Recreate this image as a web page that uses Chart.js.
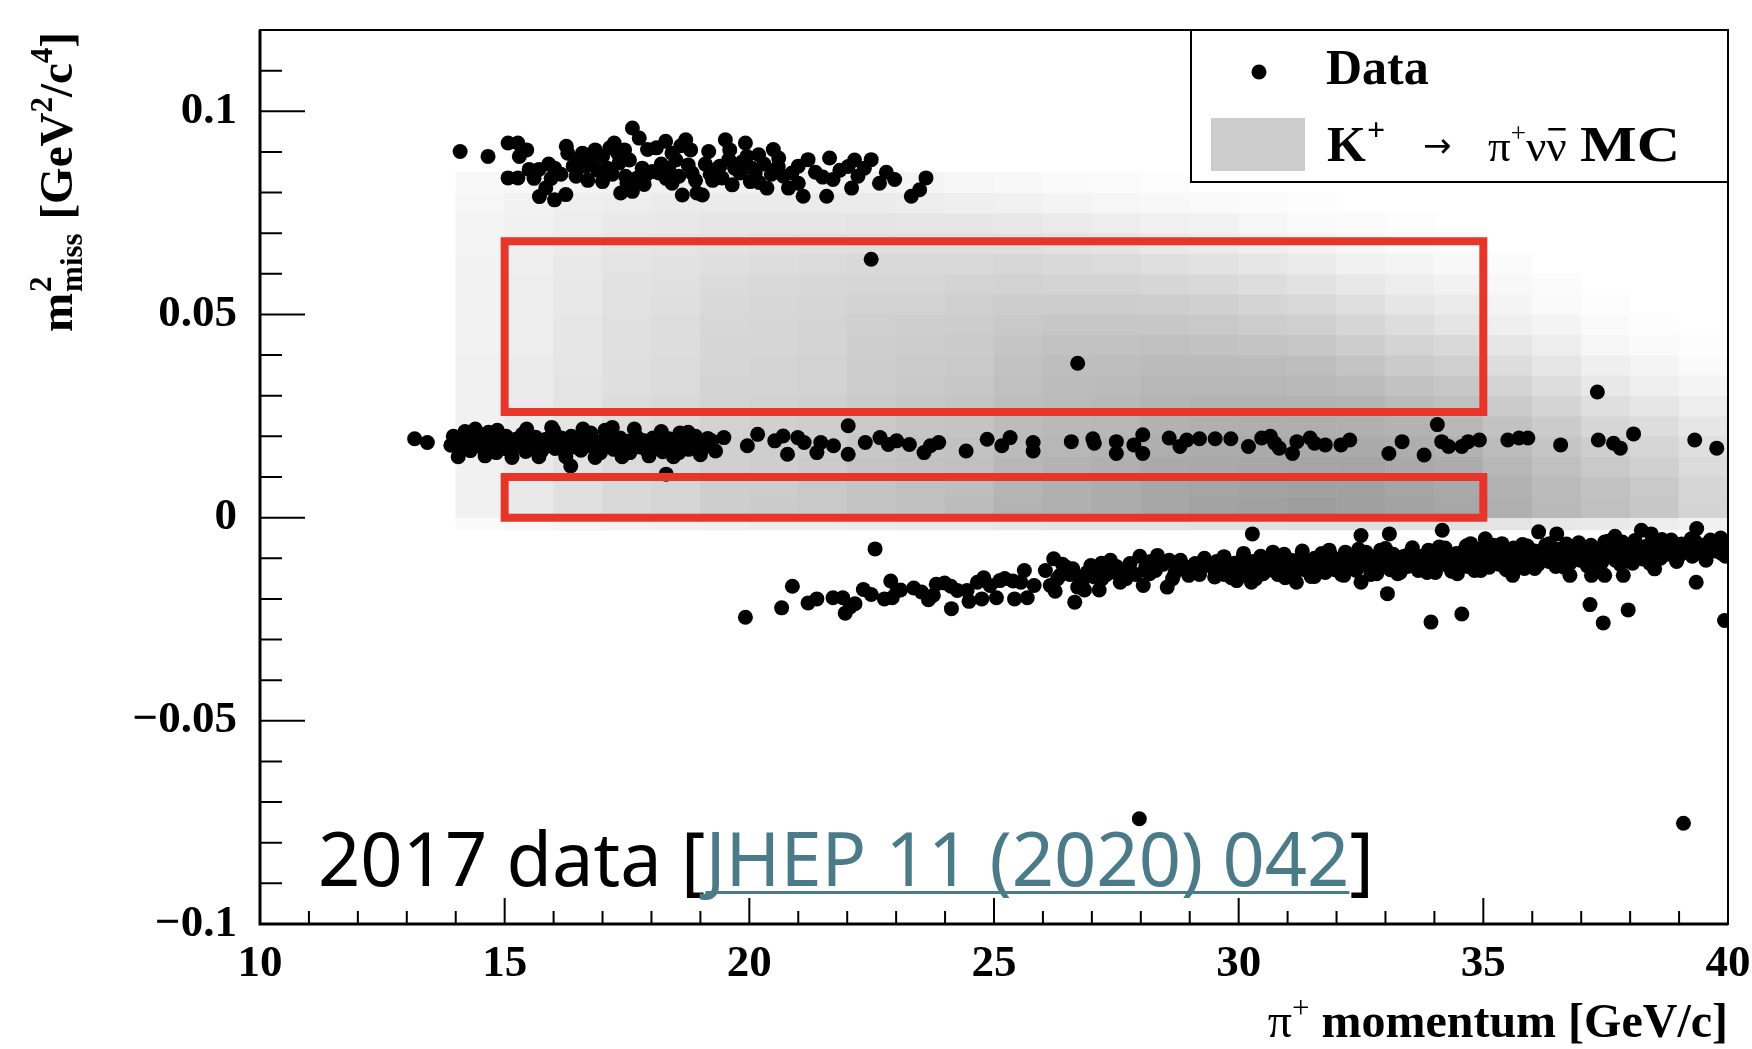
<!DOCTYPE html>
<html lang="en">
<head>
<meta charset="UTF-8">
<title>m2 miss vs pi+ momentum</title>
<style>
  html, body { margin: 0; padding: 0; background: #fff; }
  #wrap { width: 1752px; height: 1049px; }
</style>
<script src="https://cdn.jsdelivr.net/npm/chart.js@4.4.1/dist/chart.umd.min.js"></script>
</head>
<body>
<div id="wrap"><canvas id="chart" width="1752" height="1049"></canvas></div>
<script>
// axis ticks
const xTicks = [10, 15, 20, 25, 30, 35, 40];
const xTickLabels = ['10', '15', '20', '25', '30', '35', '40'];
const yTicks = [-0.1, -0.05, 0, 0.05, 0.1];
const yTickLabels = ['\u22120.1', '\u22120.05', '0', '0.05', '0.1'];

// signal regions (red boxes)
const signalP = [15, 35];
const region1 = [0, 0.01];
const region2 = [0.026, 0.068];

// K+ -> pi+ nu nubar MC, grey 2D histogram (darkness per cell)
const mcColumns = [14, 15, 16, 17, 18, 19, 20, 21, 22, 23, 24, 25, 26, 27, 28, 29, 30, 31, 32, 33, 34, 35, 36, 37, 38, 39, 40];
const mcRows = [-0.003, 0, 0.005, 0.01, 0.015, 0.02, 0.025, 0.03, 0.035, 0.04, 0.045, 0.05, 0.055, 0.06, 0.065, 0.07, 0.075, 0.08, 0.085];
const mcDensity = [
  [3, 4, 6, 7, 8, 9, 10, 10, 11, 12, 12, 14, 15, 15, 16, 17, 17, 18, 18, 17, 16, 15, 13, 12, 10, 8],
  [8, 12, 17, 21, 23, 27, 29, 30, 33, 35, 37, 42, 44, 46, 49, 51, 52, 54, 53, 51, 49, 44, 39, 35, 31, 24],
  [8, 12, 17, 21, 23, 27, 28, 30, 33, 35, 36, 41, 44, 46, 49, 50, 51, 52, 52, 50, 48, 43, 38, 34, 30, 23],
  [8, 12, 16, 20, 22, 26, 27, 29, 32, 34, 35, 40, 42, 44, 47, 48, 49, 50, 50, 48, 46, 40, 35, 30, 26, 20],
  [8, 11, 16, 20, 22, 26, 27, 28, 31, 33, 34, 38, 40, 42, 45, 46, 47, 47, 47, 45, 43, 37, 32, 27, 23, 18],
  [8, 11, 15, 19, 21, 25, 26, 27, 30, 32, 33, 37, 39, 40, 43, 44, 45, 45, 44, 42, 40, 34, 29, 23, 19, 14],
  [8, 11, 15, 19, 21, 24, 25, 26, 29, 31, 32, 36, 38, 39, 41, 42, 42, 42, 41, 38, 35, 29, 24, 18, 14, 10],
  [8, 11, 15, 18, 20, 24, 24, 25, 28, 30, 31, 35, 37, 38, 40, 40, 40, 39, 37, 34, 31, 24, 19, 13, 9, 6],
  [8, 11, 14, 18, 20, 23, 24, 25, 28, 29, 30, 34, 36, 36, 38, 38, 37, 36, 33, 29, 26, 19, 14, 9, 6, 3],
  [7, 10, 14, 17, 19, 23, 23, 24, 27, 28, 29, 32, 34, 34, 35, 34, 33, 31, 28, 24, 21, 14, 10, 5, 3, 1],
  [7, 10, 14, 17, 19, 22, 23, 24, 26, 27, 28, 30, 31, 31, 31, 30, 28, 26, 23, 19, 15, 9, 6, 3, 1, 0],
  [7, 10, 13, 16, 18, 21, 22, 23, 25, 25, 26, 28, 28, 28, 27, 26, 24, 21, 18, 14, 11, 6, 3, 1, 0, 0],
  [7, 10, 13, 16, 17, 20, 21, 22, 23, 23, 24, 25, 24, 24, 23, 21, 19, 16, 13, 10, 7, 4, 2, 0, 0, 0],
  [7, 9, 12, 15, 16, 18, 19, 20, 21, 21, 21, 22, 21, 20, 18, 16, 14, 11, 8, 6, 4, 2, 0, 0, 0, 0],
  [6, 9, 11, 14, 15, 16, 17, 17, 18, 18, 18, 18, 16, 15, 13, 11, 9, 7, 5, 3, 2, 0, 0, 0, 0, 0],
  [6, 8, 10, 12, 13, 14, 14, 14, 15, 14, 14, 13, 11, 10, 8, 7, 5, 3, 2, 1, 0, 0, 0, 0, 0, 0],
  [5, 7, 9, 10, 11, 11, 11, 11, 11, 10, 9, 8, 6, 5, 4, 3, 2, 1, 0, 0, 0, 0, 0, 0, 0, 0],
  [4, 5, 6, 7, 8, 8, 8, 7, 7, 6, 5, 4, 3, 2, 1, 0, 0, 0, 0, 0, 0, 0, 0, 0, 0, 0]
];

// data events [momentum GeV/c, m2miss GeV2/c4]
const upperBand = [
  [14.09,0.0901],[14.66,0.0889],[15.07,0.0922],[15.27,0.0922],[15.30,0.0889],[15.07,0.0836],[15.27,0.0836],[15.50,0.0857],[15.70,0.0857],[15.71,0.0790],[16.02,0.0782],[16.25,0.0795],[15.84,0.0811],
  [16.02,0.0860],[16.26,0.0914],[16.29,0.0897],[16.46,0.0840],[16.59,0.0897],[16.66,0.0864],[16.80,0.0885],[17.00,0.0889],[17.00,0.0827],[17.24,0.0922],[17.31,0.0897],[17.34,0.0873],[17.37,0.0799],[17.47,0.0840],[17.61,0.0959],[17.61,0.0803],[17.75,0.0934],[17.81,0.0860],[17.92,0.0906],[18.02,0.0852],[18.15,0.0848],[18.29,0.0926],[18.42,0.0897],[18.42,0.0823],[18.56,0.0840],[18.63,0.0794],[18.70,0.0930],[18.83,0.0848],[18.93,0.0799],[19.04,0.0794],[19.17,0.0901],[19.31,0.0856],[19.44,0.0836],[19.51,0.0930],[19.58,0.0881],[19.65,0.0819],[19.81,0.0848],[19.92,0.0922],[19.95,0.0889],[20.02,0.0827],[20.12,0.0848],[20.19,0.0893],[20.36,0.0811],[20.49,0.0906],[20.59,0.0864],[20.80,0.0811],[20.87,0.0848],[21.00,0.0823],[21.10,0.0791],[21.20,0.0881],[21.64,0.0885],[21.58,0.0791],[21.71,0.0832],[22.02,0.0864],[22.09,0.0811],[22.22,0.0840],[22.49,0.0881],[22.66,0.0823],[22.97,0.0832],[23.31,0.0791],[23.48,0.0807],[23.61,0.0836],
  [17.10,0.0860],[17.20,0.0845],[17.45,0.0905],[17.55,0.0880],[17.70,0.0835],[17.85,0.0820],[18.10,0.0910],[18.20,0.0870],[18.35,0.0860],[18.50,0.0880],[18.60,0.0915],[18.75,0.0868],[18.90,0.0830],[19.10,0.0870],[19.25,0.0830],[19.40,0.0865],[19.70,0.0860],[19.85,0.0875],[20.05,0.0860],[20.30,0.0870],[20.45,0.0845],[20.70,0.0840],[16.40,0.0865],[16.70,0.0830],[16.90,0.0855],[15.95,0.0835],[16.15,0.0845],[15.60,0.0835],[21.35,0.0850],[21.85,0.0855],[22.35,0.0860],
  [16.50,0.0880],[16.85,0.0905],[17.15,0.0910],[17.50,0.0822],[17.90,0.0845],[18.30,0.0835],[18.80,0.0905],[19.20,0.0845],[19.60,0.0905],[20.20,0.0825],[20.60,0.0885],[21.00,0.0865],[21.50,0.0838],[22.15,0.0880],[22.80,0.0850],[15.45,0.0905],[15.90,0.0870]
];

const middleBand = [
  [13.16,0.0194],[13.42,0.0185],
  [13.90,0.0178],[14.00,0.0190],[14.08,0.0170],[14.15,0.0198],[14.22,0.0182],[14.30,0.0165],[14.36,0.0192],[14.43,0.0176],[14.50,0.0204],[14.56,0.0186],[14.63,0.0168],[14.70,0.0195],[14.76,0.0180],[14.83,0.0160],[14.90,0.0190],[14.96,0.0175],
  [15.03,0.0200],[15.10,0.0183],[15.16,0.0168],[15.23,0.0193],[15.30,0.0178],[15.36,0.0205],[15.43,0.0163],[15.50,0.0188],[15.56,0.0172],[15.63,0.0198],[15.70,0.0182],[15.76,0.0165],[15.83,0.0192],[15.90,0.0178],[15.96,0.0202],
  [16.03,0.0170],[16.10,0.0186],[16.16,0.0196],[16.23,0.0162],[16.30,0.0180],[16.36,0.0200],[16.43,0.0174],[16.50,0.0188],[16.56,0.0166],[16.63,0.0194],[16.70,0.0178],[16.76,0.0208],[16.83,0.0170],[16.90,0.0186],[16.96,0.0160],
  [17.03,0.0192],[17.10,0.0176],[17.16,0.0200],[17.23,0.0168],[17.30,0.0184],[17.36,0.0196],[17.43,0.0172],[17.50,0.0188],[17.56,0.0160],[17.63,0.0180],[17.70,0.0198],[17.76,0.0174],[17.83,0.0190],[17.90,0.0166],[17.96,0.0184],
  [18.03,0.0196],[18.10,0.0172],[18.16,0.0186],[18.23,0.0162],[18.30,0.0180],[18.36,0.0194],[18.43,0.0170],[18.50,0.0185],[18.56,0.0160],[18.63,0.0178],[18.70,0.0192],[18.76,0.0168],[18.83,0.0182],[18.90,0.0200],[18.96,0.0172],[19.03,0.0186],[19.10,0.0176],
  [14.19,0.0212],[14.67,0.0210],[15.96,0.0222],[17.20,0.0222],[18.58,0.0208],
  [14.05,0.0150],[14.40,0.0218],[14.60,0.0152],[14.85,0.0215],[15.15,0.0148],[15.45,0.0218],[15.70,0.0150],[16.00,0.0215],[16.25,0.0150],[16.60,0.0218],[16.85,0.0148],[17.05,0.0215],[17.40,0.0150],[17.65,0.0218],[17.95,0.0152],[18.20,0.0212],[18.45,0.0150],[18.75,0.0210],[19.00,0.0155],[19.15,0.0195],[13.95,0.0200],[14.25,0.0175],[15.00,0.0170],[15.80,0.0185],[16.45,0.0190],[17.25,0.0182],[18.00,0.0178],[18.85,0.0188],
  [16.35,0.0127],[18.30,0.0107],
  [19.23,0.0189],[19.48,0.0197],[19.31,0.0164],[19.96,0.0177],[20.17,0.0205],[20.52,0.0189],[20.69,0.0201],[20.78,0.0156],[20.99,0.0197],[21.12,0.0185],[21.38,0.0160],[21.46,0.0185],[21.72,0.0177],[22.02,0.0226],[22.02,0.0156],[22.37,0.0185],[22.67,0.0197],[22.84,0.0180],[23.01,0.0189],[23.27,0.0180],[23.57,0.0160],[23.70,0.0177],[23.87,0.0185],[24.43,0.0164],[24.86,0.0193],[25.16,0.0177],[25.33,0.0197],[25.80,0.0185],[25.80,0.0164],
  [26.58,0.0187],[27.02,0.0194],[27.05,0.0183],[27.50,0.0187],[27.50,0.0158],[27.86,0.0179],[28.04,0.0204],[28.04,0.0158],[28.58,0.0196],[28.80,0.0175],[28.94,0.0191],[29.20,0.0194],[29.52,0.0194],[29.84,0.0194],[30.20,0.0175],[30.47,0.0196],[30.65,0.0200],[30.74,0.0183],[30.83,0.0171],[31.10,0.0158],[31.19,0.0187],[31.46,0.0196],[31.55,0.0183],[31.77,0.0179],[32.09,0.0179],[32.27,0.0191],[33.07,0.0158],[33.34,0.0187],[33.79,0.0154],[34.06,0.0229],[34.15,0.0187],[34.29,0.0175],[34.56,0.0175],[34.69,0.0187],[34.92,0.0191],[35.50,0.0191],[35.73,0.0196],[35.91,0.0196],[36.58,0.0179],[37.35,0.0191],[37.66,0.0183],[37.80,0.0171],[38.07,0.0206],[39.32,0.0191],[39.77,0.0171]
];

const lowerBand = [
  [19.92,-0.0245],[20.66,-0.0222],[20.88,-0.0169],[21.20,-0.0210],[21.38,-0.0200],[21.71,-0.0197],[21.91,-0.0197],[21.96,-0.0235],[22.06,-0.0220],[22.16,-0.0212],[22.33,-0.0177],[22.49,-0.0189],[22.57,-0.0077],
  [22.76,-0.0200],[22.89,-0.0156],[22.92,-0.0197],[23.02,-0.0179],[23.09,-0.0178],[23.36,-0.0173],[23.52,-0.0183],[23.66,-0.0202],[23.76,-0.0191],[23.82,-0.0164],[23.99,-0.0161],[24.12,-0.0169],[24.13,-0.0224],[24.25,-0.0179],[24.45,-0.0179],[24.49,-0.0206],
  [24.66,-0.0159],[24.75,-0.0200],[24.79,-0.0148],[24.92,-0.0167],[25.05,-0.0197],[25.12,-0.0155],[25.22,-0.0150],[25.39,-0.0156],[25.42,-0.0200],[25.55,-0.0159],[25.62,-0.0130],[25.68,-0.0197],[25.82,-0.0167],
  [26.05,-0.0130],[26.15,-0.0167],[26.22,-0.0101],[26.25,-0.0181],[26.35,-0.0142],[26.48,-0.0122],[26.61,-0.0126],[26.65,-0.0208],[26.71,-0.0171],[26.85,-0.0178],[26.98,-0.0118],[27.05,-0.0146],[27.15,-0.0178],[27.21,-0.0150],[27.38,-0.0105],[27.45,-0.0134],[27.58,-0.0159],
  [27.78,-0.0113],[27.98,-0.0095],[28.05,-0.0167],[28.18,-0.0138],[28.34,-0.0093],[28.54,-0.0171],[28.58,-0.0105],[28.81,-0.0105],[28.98,-0.0142],[29.11,-0.0113],[29.31,-0.0118],[29.51,-0.0130],[29.51,-0.0146],
  [26.30,-0.0150],[26.55,-0.0140],[26.90,-0.0135],[27.10,-0.0125],[27.30,-0.0140],[27.65,-0.0128],[27.90,-0.0140],[28.10,-0.0120],[28.30,-0.0130],[28.45,-0.0115],[28.70,-0.0135],[28.90,-0.0120],[29.05,-0.0130],[29.20,-0.0140],[29.40,-0.0115],[27.50,-0.0120],[26.75,-0.0150],[28.65,-0.0150],
  [26.40,-0.0115],[26.80,-0.0160],[27.20,-0.0112],[27.70,-0.0150],[28.20,-0.0108],[28.75,-0.0112],[29.30,-0.0100],[29.70,-0.0140],
  [29.55,-0.0108],[29.62,-0.0135],[29.70,-0.0096],[29.78,-0.0122],[29.85,-0.0148],[29.92,-0.0112],[30.00,-0.0130],[30.08,-0.0100],[30.15,-0.0118],[30.22,-0.0142],[30.30,-0.0108],[30.38,-0.0125],[30.45,-0.0095],[30.50,-0.0138],
  [30.58,-0.0112],[30.65,-0.0128],[30.72,-0.0098],[30.80,-0.0140],[30.86,-0.0118],[30.93,-0.0090],[31.00,-0.0125],[31.07,-0.0105],[31.14,-0.0135],[31.20,-0.0112],[31.28,-0.0095],[31.35,-0.0128],[31.42,-0.0108],[31.48,-0.0145],
  [31.55,-0.0100],[31.62,-0.0122],[31.70,-0.0088],[31.77,-0.0135],[31.84,-0.0110],[31.90,-0.0095],[31.97,-0.0128],[32.04,-0.0105],[32.10,-0.0140],[32.18,-0.0085],[32.25,-0.0118],[32.32,-0.0100],[32.40,-0.0130],[32.47,-0.0092],
  [32.55,-0.0112],[32.60,-0.0085],[32.68,-0.0125],[32.75,-0.0098],[32.82,-0.0138],[32.90,-0.0080],[32.96,-0.0115],[33.02,-0.0100],[33.10,-0.0128],[33.16,-0.0090],[33.24,-0.0110],[33.30,-0.0135],[33.38,-0.0095],[33.45,-0.0120],
  [33.52,-0.0085],[33.60,-0.0112],[33.67,-0.0130],[33.74,-0.0095],[33.80,-0.0120],[33.88,-0.0080],[33.95,-0.0105],[34.02,-0.0135],[34.08,-0.0092],[34.15,-0.0115],[34.22,-0.0075],[34.30,-0.0102],[34.38,-0.0125],[34.45,-0.0088],
  [34.52,-0.0110],[34.60,-0.0082],[34.68,-0.0120],[34.75,-0.0095],[34.82,-0.0130],[34.90,-0.0078],[34.97,-0.0105],[35.04,-0.0090],[35.12,-0.0122],[35.18,-0.0072],[35.26,-0.0100],[35.33,-0.0115],[35.40,-0.0085],[35.47,-0.0128],
  [35.55,-0.0092],[35.62,-0.0075],[35.70,-0.0110],[35.76,-0.0088],[35.84,-0.0125],[35.90,-0.0070],[35.98,-0.0100],[36.05,-0.0082],[36.12,-0.0115],[36.20,-0.0095],[36.27,-0.0068],[36.34,-0.0108],[36.42,-0.0085],[36.48,-0.0120],
  [36.55,-0.0078],[36.62,-0.0100],[36.70,-0.0065],[36.77,-0.0112],[36.84,-0.0088],[36.90,-0.0072],[36.98,-0.0105],[37.05,-0.0082],[37.12,-0.0118],[37.20,-0.0068],[37.27,-0.0095],[37.34,-0.0078],[37.42,-0.0110],[37.48,-0.0060],
  [37.55,-0.0090],[37.62,-0.0070],[37.70,-0.0105],[37.76,-0.0082],[37.84,-0.0060],[37.90,-0.0098],[37.98,-0.0075],[38.05,-0.0112],[38.12,-0.0065],[38.20,-0.0088],[38.27,-0.0102],[38.34,-0.0070],[38.42,-0.0092],[38.48,-0.0058],
  [38.55,-0.0085],[38.62,-0.0100],[38.70,-0.0068],[38.77,-0.0090],[38.84,-0.0055],[38.90,-0.0078],[38.98,-0.0098],[39.05,-0.0065],[39.12,-0.0085],[39.20,-0.0072],[39.27,-0.0095],[39.34,-0.0060],[39.42,-0.0080],[39.50,-0.0068],[39.57,-0.0092],[39.64,-0.0055],[39.72,-0.0078],[39.80,-0.0065],[39.87,-0.0088],[39.93,-0.0060],[39.97,-0.0075],
  [32.52,-0.0105],[32.65,-0.0098],[32.79,-0.0112],[32.93,-0.0102],[33.06,-0.0116],[33.20,-0.0096],[33.34,-0.0108],[33.48,-0.0100],
  [33.56,-0.0100],[33.70,-0.0112],[33.84,-0.0098],[33.98,-0.0118],[34.12,-0.0104],[34.26,-0.0092],[34.40,-0.0110],
  [34.55,-0.0096],[34.70,-0.0106],[34.85,-0.0090],[35.00,-0.0112],[35.15,-0.0098],[35.30,-0.0086],[35.44,-0.0104],
  [35.58,-0.0102],[35.72,-0.0090],[35.86,-0.0104],[36.00,-0.0092],[36.15,-0.0100],[36.30,-0.0088],[36.44,-0.0098],
  [36.58,-0.0090],[36.72,-0.0084],[36.86,-0.0098],[37.00,-0.0092],[37.15,-0.0080],[37.30,-0.0100],[37.44,-0.0088],
  [37.58,-0.0080],[37.72,-0.0094],[37.86,-0.0086],[38.00,-0.0090],[38.15,-0.0078],[38.30,-0.0086],[38.44,-0.0080],
  [38.58,-0.0076],[38.72,-0.0086],[38.86,-0.0072],[39.00,-0.0084],[39.15,-0.0078],[39.30,-0.0074],[39.44,-0.0086],[39.60,-0.0074],[39.75,-0.0082],[39.90,-0.0070],
  [29.60,-0.0122],[29.80,-0.0115],[30.00,-0.0118],[30.20,-0.0125],[30.40,-0.0112],[30.60,-0.0120],[30.80,-0.0110],[31.00,-0.0115],[31.20,-0.0124],[31.40,-0.0112],[31.60,-0.0114],[31.80,-0.0106],[32.00,-0.0116],[32.20,-0.0108],[32.40,-0.0112],
  [30.10,-0.0088],[30.35,-0.0150],[30.70,-0.0085],[30.95,-0.0148],[31.30,-0.0082],[31.55,-0.0145],[31.85,-0.0080],[32.15,-0.0142],[32.45,-0.0078],[32.70,-0.0140],[33.00,-0.0076],[33.25,-0.0138],[33.55,-0.0074],[33.85,-0.0135],[34.10,-0.0072],[34.35,-0.0132],[34.65,-0.0070],[34.95,-0.0130],[35.20,-0.0068],[35.50,-0.0128],[35.80,-0.0066],[36.05,-0.0125],[36.35,-0.0064],[36.65,-0.0122],[36.95,-0.0062],[37.25,-0.0120],[37.55,-0.0058],[37.80,-0.0115],[38.10,-0.0056],[38.40,-0.0112],[38.65,-0.0054],[38.95,-0.0108],[39.25,-0.0052],[39.55,-0.0105],[39.85,-0.0050],[39.95,-0.0095],
  [30.28,-0.0040],[32.50,-0.0044],[33.08,-0.0040],[34.16,-0.0031],[32.50,-0.0159],[33.04,-0.0187],[33.93,-0.0257],[34.56,-0.0237],[36.13,-0.0035],[36.50,-0.0040],[37.18,-0.0214],[37.45,-0.0259],[37.96,-0.0227],[39.35,-0.0159],[39.36,-0.0027],[39.93,-0.0253],
  [37.21,-0.0142],[37.48,-0.0142],[37.86,-0.0142],[38.50,-0.0126],[34.47,-0.0138],[36.77,-0.0142],[35.60,-0.0142],[31.18,-0.0159],[30.26,-0.0159],[29.96,-0.0155],[35.04,-0.0052],[35.38,-0.0064],[34.74,-0.0064],[37.69,-0.0046],[38.23,-0.0031],[38.43,-0.0040]
];

const outliers = [[22.49,0.0636],[26.71,0.0380],[37.33,0.0309],[27.97,-0.0741],[39.09,-0.0752]];

const RED = '#e8352a';
const SERIF = '"Liberation Serif", "Times New Roman", serif';

// build datasets
const mcCells = [];
mcDensity.forEach((row, r) => {
  row.forEach((d, c) => {
    if (d > 0) {
      mcCells.push({ x: (mcColumns[c] + mcColumns[c + 1]) / 2, y: [mcRows[r], mcRows[r + 1]], d: d });
    }
  });
});

const dataPoints = [...upperBand, ...middleBand, ...lowerBand, ...outliers].map(p => ({ x: p[0], y: p[1] }));

function boxPath(p, m) {
  return [
    { x: p[0], y: m[0] }, { x: p[1], y: m[0] }, { x: p[1], y: m[1] },
    { x: p[0], y: m[1] }, { x: p[0], y: m[0] }
  ];
}

// helpers for composed text (superscripts etc.)
function pieceWidth(ctx, p) {
  ctx.font = p.font;
  if (p.sup !== undefined) {
    return Math.max(ctx.measureText(p.sup).width, ctx.measureText(p.sub).width) + (p.gap || 0);
  }
  return ctx.measureText(p.t).width * (p.sx || 1) + (p.gap || 0);
}
function runWidth(ctx, pieces) {
  return pieces.reduce((s, p) => s + pieceWidth(ctx, p), 0);
}
function drawRun(ctx, pieces, x, y) {
  pieces.forEach(p => {
    ctx.font = p.font;
    ctx.fillStyle = p.color || '#000';
    if (p.sup !== undefined) {
      ctx.fillText(p.sup, x, y - p.up);
      ctx.fillText(p.sub, x, y + p.down);
    } else if (p.sx) {
      ctx.save();
      ctx.translate(x, y + (p.dy || 0));
      ctx.scale(p.sx, 1);
      ctx.fillText(p.t, 0, 0);
      ctx.restore();
    } else {
      ctx.fillText(p.t, x, y + (p.dy || 0));
    }
    x += pieceWidth(ctx, p);
  });
  return x;
}

const decor = {
  id: 'decor',
  afterDatasetsDraw(chart) {
    const { ctx, chartArea: a, scales: { x, y } } = chart;
    ctx.save();
    ctx.strokeStyle = '#000';
    ctx.lineWidth = 2;
    ctx.beginPath();
    // x ticks (major every 5, minor every 1), drawn inwards
    for (let v = 10; v <= 40; v += 1) {
      const px = x.getPixelForValue(v);
      const len = (v % 5 === 0) ? 26 : 13;
      ctx.moveTo(px, a.bottom);
      ctx.lineTo(px, a.bottom - len);
    }
    // y ticks (major every 0.05, minor every 0.01)
    for (let i = -10; i <= 12; i++) {
      const py = y.getPixelForValue(i / 100);
      const len = (i % 5 === 0) ? 45 : 22;
      ctx.moveTo(a.left, py);
      ctx.lineTo(a.left + len, py);
    }
    ctx.stroke();
    // frame
    ctx.lineWidth = 2;
    ctx.strokeRect(a.left, a.top, a.right - a.left, a.bottom - a.top);
    ctx.lineWidth = 3;
    ctx.beginPath();
    ctx.moveTo(a.left, a.top);
    ctx.lineTo(a.left, a.bottom);
    ctx.lineTo(a.right, a.bottom);
    ctx.stroke();
    ctx.restore();
  },
  afterDraw(chart) {
    const { ctx, chartArea: a } = chart;
    ctx.save();
    ctx.textBaseline = 'alphabetic';
    ctx.textAlign = 'left';

    // y title, rotated
    const yB = 'bold 47px ' + SERIF;
    const yS = 'bold 31px ' + SERIF;
    const yTitle = [
      { t: 'm', font: yB, gap: 1 },
      { sup: '2', sub: 'miss', font: yS, up: 21, down: 10, gap: 2 },
      { t: ' [GeV', font: yB },
      { t: '2', font: yS, dy: -20 },
      { t: '/c', font: yB },
      { t: '4', font: yS, dy: -20 },
      { t: ']', font: yB }
    ];
    const yLen = runWidth(ctx, yTitle);
    ctx.save();
    ctx.translate(72, 32 + yLen);
    ctx.rotate(-Math.PI / 2);
    drawRun(ctx, yTitle, 0, 0);
    ctx.restore();

    // x title, right aligned to the frame
    const xTitle = [
      { t: '\u03c0', font: '48px ' + SERIF },
      { t: '+', font: '31px ' + SERIF, dy: -19 },
      { t: ' momentum [GeV/c]', font: 'bold 48px ' + SERIF }
    ];
    drawRun(ctx, xTitle, a.right - runWidth(ctx, xTitle), 1037);

    // legend
    const lx = 1191, ly = a.top, lw = a.right - 1191, lh = 152;
    ctx.fillStyle = '#fff';
    ctx.fillRect(lx, ly, lw, lh);
    ctx.strokeStyle = '#000';
    ctx.lineWidth = 2;
    ctx.strokeRect(lx, ly, lw, lh);
    ctx.fillStyle = '#000';
    ctx.beginPath();
    ctx.arc(1259, 72, 7.5, 0, Math.PI * 2);
    ctx.fill();
    ctx.font = 'bold 50px ' + SERIF;
    ctx.fillText(chart.data.datasets[2].label, 1326, 84);
    ctx.fillStyle = '#cccccc';
    ctx.fillRect(1211, 118, 94, 53);
    const lB = 'bold 50px ' + SERIF;
    drawRun(ctx, [{ t: 'K', font: lB, gap: 1 }, { t: '+', font: 'bold 32px ' + SERIF, dy: -21 }], 1327, 161);
    ctx.fillStyle = '#000';
    ctx.font = '34px "DejaVu Sans"';
    ctx.fillText('\u2192', 1423, 157);
    const endNu = drawRun(ctx, [
      { t: '\u03c0', font: '45px ' + SERIF },
      { t: '+', font: '27px ' + SERIF, dy: -19 },
      { t: '\u03bd', font: '45px ' + SERIF }
    ], 1488, 161);
    ctx.font = '45px ' + SERIF;
    const nuW = ctx.measureText('\u03bd').width;
    ctx.fillText('\u03bd', endNu, 161);
    ctx.fillRect(endNu + 2, 128, nuW - 3, 2.5);
    drawRun(ctx, [{ t: 'MC', font: lB, sx: 1.2 }], 1580, 161);

    // annotation
    const noteFont = '74px "Noto Sans"';
    drawRun(ctx, [{ t: '2017 data [', font: noteFont }], 318, 886);
    ctx.font = noteFont;
    const x1 = 318 + ctx.measureText('2017 data [').width;
    const ref = 'JHEP 11 (2020) 042';
    const refW = ctx.measureText(ref).width;
    ctx.fillStyle = '#4b7b89';
    ctx.fillText(ref, x1, 886);
    ctx.fillRect(x1, 891, refW, 3);
    ctx.fillStyle = '#000';
    ctx.fillText(']', x1 + refW, 886);
    ctx.restore();
  }
};

const ctx = document.getElementById('chart').getContext('2d');
new Chart(ctx, {
  type: 'scatter',
  data: {
    datasets: [
      {
        type: 'line', label: 'Region 1', data: boxPath(signalP, region1),
        borderColor: RED, borderWidth: 8, pointRadius: 0, fill: false, tension: 0,
        borderCapStyle: 'square', borderJoinStyle: 'miter', order: 0
      },
      {
        type: 'line', label: 'Region 2', data: boxPath(signalP, region2),
        borderColor: RED, borderWidth: 8, pointRadius: 0, fill: false, tension: 0,
        borderCapStyle: 'square', borderJoinStyle: 'miter', order: 0
      },
      {
        type: 'scatter', label: 'Data', data: dataPoints,
        pointRadius: 7.5, pointBackgroundColor: '#000', pointBorderWidth: 0, order: 1
      },
      {
        type: 'bar', label: 'K+ \u2192 \u03c0+\u03bd\u03bd\u0304 MC', data: mcCells,
        backgroundColor: c => {
          const d = c.raw ? c.raw.d : 0;
          const g = Math.round(255 - 1.8 * d);
          return 'rgb(' + g + ',' + g + ',' + g + ')';
        },
        borderWidth: 0, barPercentage: 1, categoryPercentage: 1, grouped: false, order: 2
      }
    ]
  },
  options: {
    responsive: false,
    animation: false,
    devicePixelRatio: 1,
    events: [],
    layout: { padding: { left: 0, top: 30, right: 24, bottom: 0 } },
    plugins: { legend: { display: false }, tooltip: { enabled: false } },
    scales: {
      x: {
        type: 'linear', min: 10, max: 40, offset: false,
        grid: { display: false, drawTicks: false, offset: false },
        border: { display: false },
        ticks: {
          autoSkip: false, maxRotation: 0, padding: 13, color: '#000',
          font: { family: SERIF, size: 45, weight: 'bold' },
          callback: (v, i) => xTickLabels[i]
        },
        afterBuildTicks: s => { s.ticks = xTicks.map(v => ({ value: v })); },
        afterFit: s => { s.height = 125; s.paddingLeft = 0; s.paddingRight = 0; }
      },
      y: {
        type: 'linear', min: -0.1, max: 0.12,
        grid: { display: false, drawTicks: false },
        border: { display: false },
        ticks: {
          autoSkip: false, padding: 23, color: '#000',
          font: { family: SERIF, size: 45, weight: 'bold' },
          callback: (v, i) => yTickLabels[i]
        },
        afterBuildTicks: s => { s.ticks = yTicks.map(v => ({ value: v })); },
        afterFit: s => { s.width = 260; s.paddingTop = 0; s.paddingBottom = 0; }
      }
    }
  },
  plugins: [decor]
});
</script>
</body>
</html>
